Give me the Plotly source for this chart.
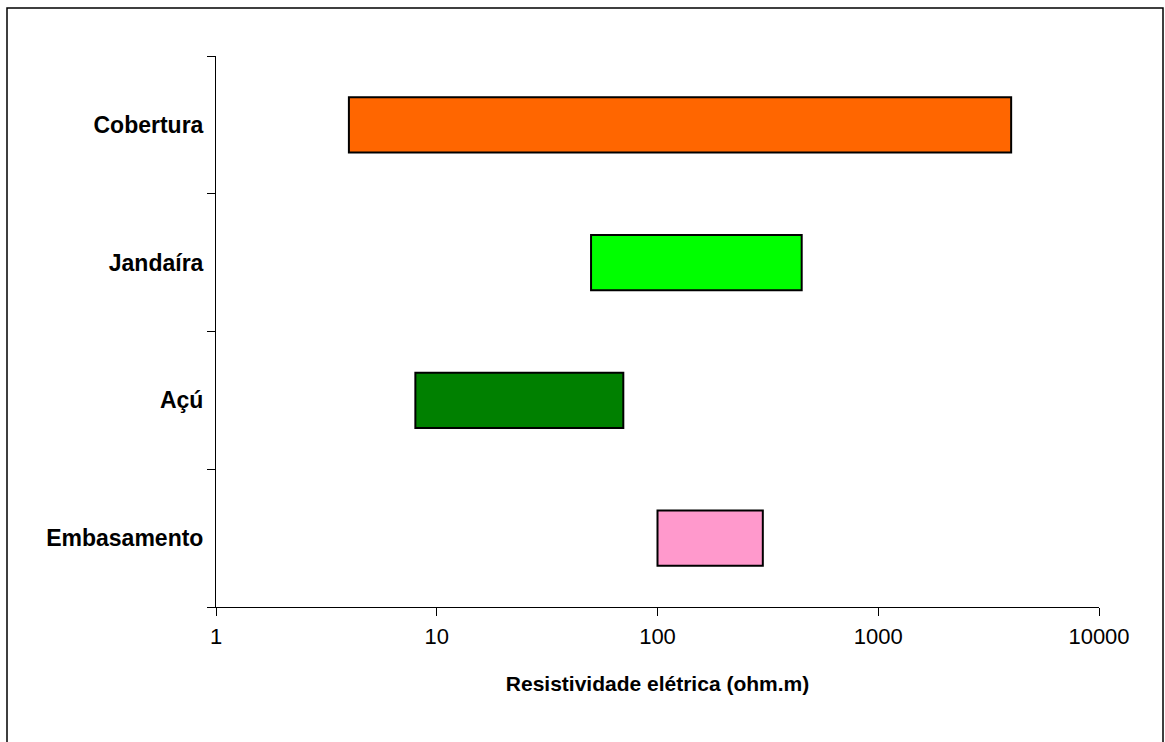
import plotly.graph_objects as go

categories = ["Cobertura", "Jandaíra", "Açú", "Embasamento"]
range_min = [4, 50, 8, 100]
range_max = [4000, 450, 70, 300]
colors = ["#FF6600", "#00FF00", "#008000", "#FF99CC"]
x_tickvals = [1, 10, 100, 1000, 10000]
x_ticktext = ["1", "10", "100", "1000", "10000"]

lengths = [hi - lo for lo, hi in zip(range_min, range_max)]

fig = go.Figure()
fig.add_trace(go.Bar(
    y=categories,
    x=lengths,
    base=range_min,
    orientation="h",
    marker=dict(color=colors, line=dict(color="black", width=2)),
    width=0.4,
    hoverinfo="skip",
))

FONT = "Liberation Sans, Arial, sans-serif"

fig.update_layout(
    width=1165,
    height=742,
    margin=dict(l=216, r=66, t=56, b=135),
    paper_bgcolor="white",
    plot_bgcolor="white",
    showlegend=False,
    font=dict(family=FONT, color="black"),
    xaxis=dict(
        type="log",
        range=[0, 4],
        tickvals=x_tickvals,
        ticktext=x_ticktext,
        ticks="outside",
        ticklen=8,
        tickwidth=1,
        tickcolor="black",
        showline=True,
        linecolor="black",
        linewidth=1,
        showgrid=False,
        zeroline=False,
        tickfont=dict(size=22, family=FONT),
        ticklabelstandoff=2,
        title=dict(text="<b>Resistividade elétrica (ohm.m)</b>",
                   font=dict(size=21, family=FONT), standoff=27),
    ),
    yaxis=dict(
        categoryorder="array",
        categoryarray=categories[::-1],
        range=[-0.5, 3.5],
        tickson="boundaries",
        ticks="outside",
        ticklen=8,
        tickwidth=1,
        tickcolor="black",
        showline=True,
        linecolor="black",
        linewidth=1,
        showgrid=False,
        zeroline=False,
        tickfont=dict(size=23, family=FONT),
        ticklabelstandoff=7,
        tickprefix="<b>",
        ticksuffix="</b>",
    ),
    shapes=[dict(
        type="rect", xref="paper", yref="paper",
        x0=(7 - 216) / 883, x1=(1163 - 216) / 883,
        y0=(607 - 800) / 551, y1=(607 - 8) / 551,
        line=dict(color="black", width=1.5),
        fillcolor="rgba(0,0,0,0)",
        layer="below",
    )],
)

fig.write_html("out.html", config={"displayModeBar": False},
               post_script="document.body.style.margin='0';document.body.style.overflow='hidden';")
